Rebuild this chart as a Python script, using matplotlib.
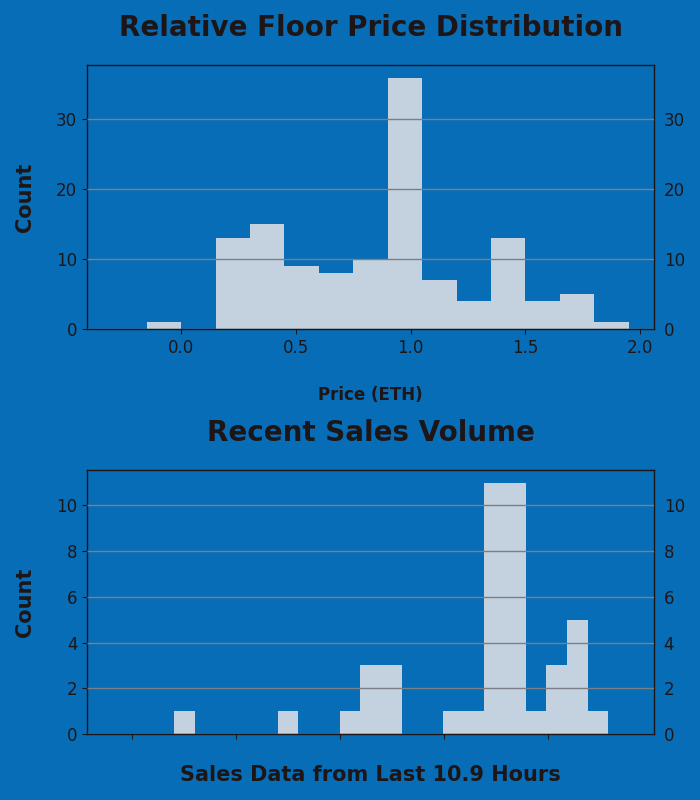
import matplotlib
matplotlib.use("Agg")
import matplotlib.pyplot as plt
import numpy as np

# Top histogram: relative floor price (ETH)
price_edges = [-0.15, 0.0, 0.15, 0.30, 0.45, 0.60, 0.75, 0.90, 1.05, 1.20, 1.35, 1.50, 1.65, 1.80, 1.95]
price_counts = [1, 0, 13, 15, 9, 8, 10, 36, 7, 4, 13, 4, 5, 1]
price_xticks = [0.0, 0.5, 1.0, 1.5, 2.0]
price_yticks = [0, 10, 20, 30]

# Bottom histogram: recent sales volume (hours within the 10.9 h window)
window_hours = 10.9
sales_bin_start = 1.675
sales_bin_width = 0.3974
sales_counts = [1, 0, 0, 0, 0, 1, 0, 0, 1, 3, 3, 0, 0, 1, 1, 11, 11, 1, 3, 5, 1]
sales_xticks = [0.87, 2.87, 4.87, 6.87, 8.87]
sales_yticks = [0, 2, 4, 6, 8, 10]

BG = "#086db7"
BAR = "#c4d1de"
TXT = "#1e1616"
GRID = "#7a7f88"

fig = plt.figure(figsize=(7, 8), dpi=100, facecolor=BG)
ax1 = fig.add_axes([0.1243, 0.58875, 0.81, 0.33])
ax2 = fig.add_axes([0.1243, 0.0825, 0.81, 0.33])

def style(ax):
    ax.set_facecolor(BG)
    for s in ax.spines.values():
        s.set_color(TXT)
        s.set_linewidth(1.0)
    ax.tick_params(axis="both", colors=TXT, labelcolor=TXT, labelsize=12)
    ax.tick_params(axis="y", right=False, labelright=True)
    ax.set_axisbelow(False)

# top
centers1 = [(price_edges[i] + price_edges[i + 1]) / 2 for i in range(len(price_counts))]
ax1.hist(centers1, bins=price_edges, weights=price_counts, color=BAR, zorder=1)
style(ax1)
ax1.set_xlim(-0.41, 2.06)
ax1.set_xticks(price_xticks)
ax1.set_yticks(price_yticks)
ax1.set_ylim(0, 37.8)
ax1.set_title("Relative Floor Price Distribution", fontsize=20, fontweight="bold", color=TXT, pad=21)
ax1.set_xlabel("Price (ETH)", fontsize=12, fontweight="bold", color=TXT, labelpad=21)
ax1.set_ylabel("Count", fontsize=15, fontweight="bold", color=TXT, labelpad=15)

# bottom
edges2 = [sales_bin_start + i * sales_bin_width for i in range(len(sales_counts) + 1)]
centers2 = [(edges2[i] + edges2[i + 1]) / 2 for i in range(len(sales_counts))]
ax2.hist(centers2, bins=edges2, weights=sales_counts, color=BAR, zorder=1)
style(ax2)
ax2.set_xlim(0, window_hours)
ax2.set_xticks(sales_xticks)
ax2.set_xticklabels([])
ax2.set_yticks(sales_yticks)
ax2.set_ylim(0, 11.55)
ax2.set_title("Recent Sales Volume", fontsize=20, fontweight="bold", color=TXT, pad=21)
ax2.set_xlabel(f"Sales Data from Last {window_hours} Hours", fontsize=15, fontweight="bold", color=TXT, labelpad=15)
ax2.set_ylabel("Count", fontsize=15, fontweight="bold", color=TXT, labelpad=15)

for ax in (ax1, ax2):
    ax.grid(axis="y", color=GRID, linewidth=1.0, zorder=2)

fig.savefig("out.png", dpi=100, facecolor=BG)
